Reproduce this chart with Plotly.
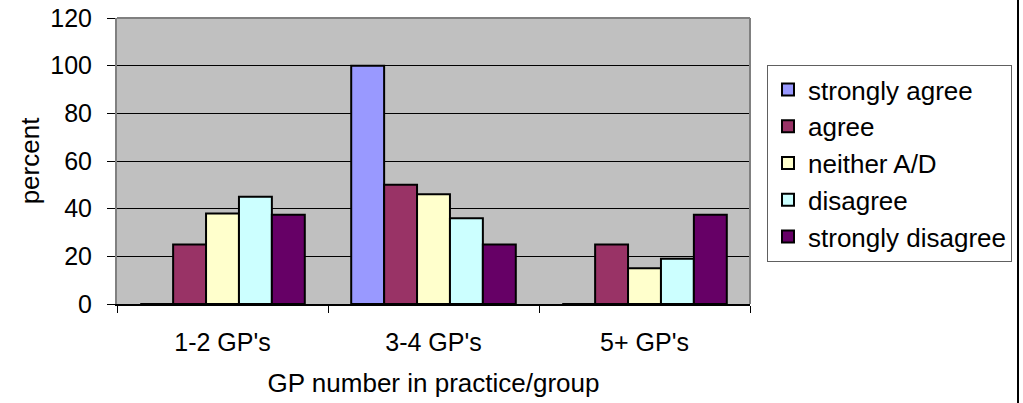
import plotly.graph_objects as go

# Survey responses by practice size (percent)
groups = ["1-2 GP's", "3-4 GP's", "5+ GP's"]
strongly_agree = [0, 100, 0]
agree = [25, 50, 25]
neither = [38, 46, 15]
disagree = [45, 36, 19]
strongly_disagree = [37.5, 25, 37.5]

series = [
    ("strongly agree", strongly_agree, "#9999FF"),
    ("agree", agree, "#993366"),
    ("neither A/D", neither, "#FFFFCC"),
    ("disagree", disagree, "#CCFFFF"),
    ("strongly disagree", strongly_disagree, "#660066"),
]

FONT = "Liberation Sans, Arial, sans-serif"

fig = go.Figure()
for name, vals, color in series:
    fig.add_trace(go.Bar(
        name=name, x=groups, y=vals,
        marker=dict(color=color, line=dict(color="black", width=2)),
    ))

L, R, T, B = 117, 273, 18, 99
W, H = 1023, 403
pw, ph = W - L - R, H - T - B

fig.update_layout(
    width=W, height=H,
    margin=dict(l=L, r=R, t=T, b=B, pad=0, autoexpand=False),
    paper_bgcolor="white",
    plot_bgcolor="#C0C0C0",
    barmode="group",
    bargap=0.22,
    bargroupgap=0,
    font=dict(family=FONT, size=25, color="black"),
    showlegend=True,
    legend=dict(
        x=(767 - L) / pw, y=(H - B - 65) / ph,
        xanchor="left", yanchor="top",
        bgcolor="white", bordercolor="#606060", borderwidth=1,
        font=dict(family=FONT, size=26, color="black"),
        itemclick=False,
    ),
    xaxis=dict(
        type="category",
        showgrid=False,
        showline=True, linecolor="black", linewidth=2,
        ticks="outside", tickson="boundaries", ticklen=7, tickcolor="black", tickwidth=1,
        ticklabelstandoff=15,
        tickfont=dict(family=FONT, size=25),
        title=dict(text="GP number in practice/group", font=dict(family=FONT, size=26), standoff=19),
    ),
    yaxis=dict(
        range=[0, 120], tick0=0, dtick=20,
        showgrid=True, gridcolor="black", gridwidth=1,
        showline=True, linecolor="#808080", linewidth=2,
        ticks="outside", ticklen=8, tickcolor="black", tickwidth=1,
        ticklabelstandoff=10,
        tickfont=dict(family=FONT, size=25),
        zeroline=False,
        title=dict(text="percent", font=dict(family=FONT, size=26), standoff=3),
    ),
    shapes=[
        # grey frame on the top and right of the plotting area
        dict(type="line", xref="paper", yref="paper", x0=0, x1=1, y0=1, y1=1,
             line=dict(color="#808080", width=2), layer="above"),
        dict(type="line", xref="paper", yref="paper", x0=1, x1=1, y0=0, y1=1,
             line=dict(color="#808080", width=2), layer="above"),
        # outer chart border on the right
        dict(type="line", xref="paper", yref="paper",
             x0=(1018 - L) / pw, x1=(1018 - L) / pw,
             y0=-B / ph - 0.05, y1=1 + T / ph + 0.05,
             line=dict(color="black", width=2)),
    ],
)

fig.write_html("out.html")
